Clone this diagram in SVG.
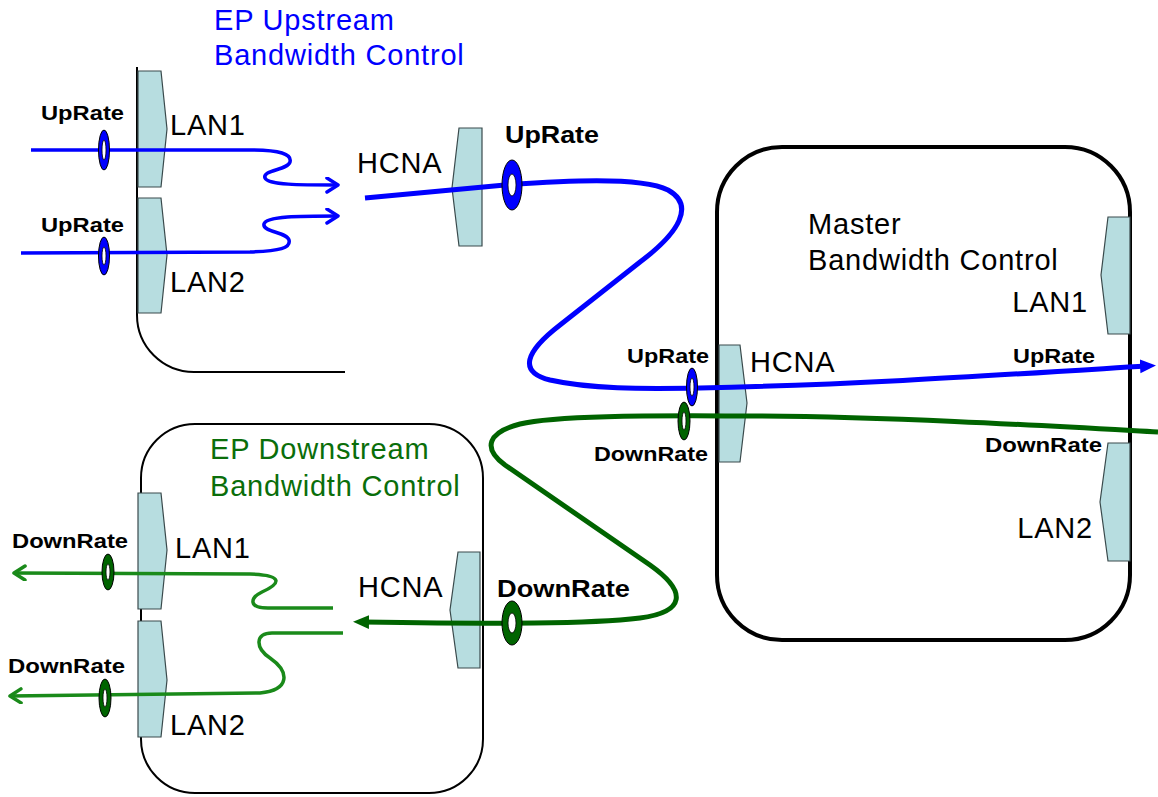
<svg xmlns="http://www.w3.org/2000/svg" width="1158" height="797" viewBox="0 0 1158 797">
  <style>
    text { font-family: "Liberation Sans", Arial, sans-serif; }
    .t { font-size: 29px; fill: #000; letter-spacing: 0.8px; }
    .tb { fill: #0000ff; }
    .tg { fill: #0a6e0a; }
    .lbl { font-size: 21px; font-weight: bold; fill: #000; }
    .lbl-big { font-size: 24px; font-weight: bold; fill: #000; }
    .port { fill: #b7dde0; stroke: #3a4a4c; stroke-width: 1.2; stroke-linejoin: miter; }
    .box-thin { fill: none; stroke: #000; stroke-width: 2; }
    .box-thick { fill: none; stroke: #000; stroke-width: 4; }
    .up-thin { fill: none; stroke: #0000ff; stroke-width: 3.5; }
    .down-thin { fill: none; stroke: #1a8a1a; stroke-width: 3.5; }
    .up-main { fill: none; stroke: #0000ff; stroke-width: 5; }
    .down-main { fill: none; stroke: #006400; stroke-width: 5; }
    .ring-up { fill: #0000ff; stroke: #000; stroke-width: 1; }
    .ring-down { fill: #006400; stroke: #000; stroke-width: 1; }
    .hole { fill: #fff; stroke: #000; stroke-width: 0.8; }
  </style>
  <defs>
    <marker id="chev-blue" markerUnits="userSpaceOnUse" markerWidth="16" markerHeight="18" refX="13" refY="8" orient="auto">
      <path d="M2,1 L13,8 L2,15" fill="none" stroke="#0000ff" stroke-width="3.5" stroke-linecap="round" stroke-linejoin="round"/>
    </marker>
    <marker id="chev-green" markerUnits="userSpaceOnUse" markerWidth="16" markerHeight="18" refX="13" refY="8" orient="auto">
      <path d="M2,1 L13,8 L2,15" fill="none" stroke="#1a8a1a" stroke-width="3.5" stroke-linecap="round" stroke-linejoin="round"/>
    </marker>
    <marker id="tri-blue" markerUnits="userSpaceOnUse" markerWidth="18" markerHeight="16" refX="6" refY="8" orient="auto">
      <path d="M0,1 L16,8 L0,15 z" fill="#0000ff"/>
    </marker>
    <marker id="tri-green" markerUnits="userSpaceOnUse" markerWidth="18" markerHeight="16" refX="6" refY="8" orient="auto">
      <path d="M0,1 L16,8 L0,15 z" fill="#006400"/>
    </marker>
  </defs>

  <rect width="1158" height="797" fill="#fff"/>

  <!-- upstream endpoint: open enclosure with two LAN ports -->
  <g id="ep-upstream">
    <path class="box-thin" d="M137,67 V315 A57,57 0 0 0 194,372 H345"/>
    <text class="t tb" x="214" y="30">EP Upstream</text>
    <text class="t tb" x="214" y="65">Bandwidth Control</text>
  </g>
  <g id="ep-up-lan1">
    <polygon class="port" points="138,71 161,71 167,129 161,187 138,187"/>
    <text class="t" x="170" y="135">LAN1</text>
  </g>
  <g id="ep-up-lan2">
    <polygon class="port" points="138,198 161,198 167,255 161,313 138,313"/>
    <text class="t" x="170" y="292">LAN2</text>
  </g>
  <g id="ep-up-hcna">
    <polygon class="port" points="482,128 459,128 452,188 459,246 482,246"/>
    <text class="t" x="357" y="173">HCNA</text>
  </g>

  <!-- master node -->
  <g id="master">
    <rect class="box-thick" x="717" y="147" width="413" height="493" rx="65" ry="65"/>
    <text class="t" x="808" y="234">Master</text>
    <text class="t" x="808" y="270">Bandwidth Control</text>
  </g>
  <g id="master-hcna">
    <polygon class="port" points="719,345 740,345 747,403 740,462 719,462"/>
    <text class="t" x="750" y="372">HCNA</text>
  </g>
  <g id="master-lan1">
    <polygon class="port" points="1130,217 1108,217 1101,275 1108,334 1130,334"/>
    <text class="t" x="1088" y="312" text-anchor="end">LAN1</text>
  </g>
  <g id="master-lan2">
    <polygon class="port" points="1130,443 1108,443 1100,502 1108,561 1130,561"/>
    <text class="t" x="1093" y="538" text-anchor="end">LAN2</text>
  </g>

  <!-- downstream endpoint -->
  <g id="ep-downstream">
    <rect class="box-thin" x="141" y="424" width="342" height="369" rx="54" ry="54"/>
    <text class="t tg" x="210" y="459">EP Downstream</text>
    <text class="t tg" x="210" y="496">Bandwidth Control</text>
  </g>
  <g id="ep-down-lan1">
    <polygon class="port" points="138,493 161,493 167,550 161,609 138,609"/>
    <text class="t" x="175" y="558">LAN1</text>
  </g>
  <g id="ep-down-lan2">
    <polygon class="port" points="138,621 161,621 167,680 161,737 138,737"/>
    <text class="t" x="170" y="735">LAN2</text>
  </g>
  <g id="ep-down-hcna">
    <polygon class="port" points="480,552 458,552 450,610 458,668 480,668"/>
    <text class="t" x="358" y="597">HCNA</text>
  </g>

  <!-- traffic flows -->
  <g id="connectors">
    <path class="up-thin" marker-end="url(#chev-blue)" d="M31,150 L250,150 C280,150 292,154 290,162 C288,170 262,170 265,178 C268,185 300,185 338,185"/>
    <path class="up-thin" marker-end="url(#chev-blue)" d="M21,253 L250,252 C280,251 291,248 289,240 C287,232 262,232 264,224 C266,216 300,216 338,216"/>
    <path class="up-main" marker-end="url(#tri-blue)" d="M365,198 L505,185 C560,181 640,176 668,190 C695,205 680,232 640,262 L560,325 C525,352 518,372 550,380 C590,389 640,389 700,388 C850,385 1000,375 1146,366"/>
    <path class="down-main" marker-end="url(#tri-green)" d="M1158,432 C1050,426 900,417 760,416 C680,416 560,414 520,424 C488,432 482,448 505,465 L650,565 C688,592 685,612 640,618 C590,624 500,624 363,622"/>
    <path class="down-thin" marker-end="url(#chev-green)" d="M333,608 L268,608 C248,608 250,598 262,592 C280,584 285,575 250,574 L14,573"/>
    <path class="down-thin" marker-end="url(#chev-green)" d="M343,633 L272,633 C255,633 255,648 270,658 C290,672 290,690 260,693 L10,696"/>
  </g>

  <!-- rate meters on the flows -->
  <g id="rate-meters">
    <ellipse class="ring-up" cx="104" cy="150" rx="5.5" ry="20"/><ellipse class="hole" cx="104" cy="150" rx="2" ry="10"/>
    <ellipse class="ring-up" cx="104" cy="256" rx="5.5" ry="19"/><ellipse class="hole" cx="104" cy="256" rx="2" ry="9"/>
    <ellipse class="ring-up" cx="512" cy="185" rx="10" ry="25"/><ellipse class="hole" cx="512" cy="185" rx="4" ry="11"/>
    <ellipse class="ring-up" cx="692" cy="387" rx="5.5" ry="19"/><ellipse class="hole" cx="692" cy="387" rx="2" ry="9"/>
    <ellipse class="ring-down" cx="684" cy="421" rx="6" ry="19"/><ellipse class="hole" cx="684" cy="421" rx="2" ry="9"/>
    <ellipse class="ring-down" cx="512" cy="623" rx="10" ry="22"/><ellipse class="hole" cx="512" cy="623" rx="4" ry="10"/>
    <ellipse class="ring-down" cx="108" cy="572" rx="6" ry="18"/><ellipse class="hole" cx="108" cy="572" rx="2" ry="8"/>
    <ellipse class="ring-down" cx="105" cy="698" rx="6" ry="19"/><ellipse class="hole" cx="105" cy="698" rx="2" ry="9"/>

    <text class="lbl" x="41" y="120" textLength="83" lengthAdjust="spacingAndGlyphs">UpRate</text>
    <text class="lbl" x="41" y="232" textLength="83" lengthAdjust="spacingAndGlyphs">UpRate</text>
    <text class="lbl-big" x="505" y="143" textLength="94" lengthAdjust="spacingAndGlyphs">UpRate</text>
    <text class="lbl" x="627" y="363" textLength="82" lengthAdjust="spacingAndGlyphs">UpRate</text>
    <text class="lbl" x="594" y="461" textLength="114" lengthAdjust="spacingAndGlyphs">DownRate</text>
    <text class="lbl" x="1013" y="363" textLength="82" lengthAdjust="spacingAndGlyphs">UpRate</text>
    <text class="lbl" x="985" y="452" textLength="117" lengthAdjust="spacingAndGlyphs">DownRate</text>
    <text class="lbl-big" x="497" y="597" textLength="133" lengthAdjust="spacingAndGlyphs">DownRate</text>
    <text class="lbl" x="12" y="548" textLength="116" lengthAdjust="spacingAndGlyphs">DownRate</text>
    <text class="lbl" x="8" y="673" textLength="117" lengthAdjust="spacingAndGlyphs">DownRate</text>
  </g>
</svg>
